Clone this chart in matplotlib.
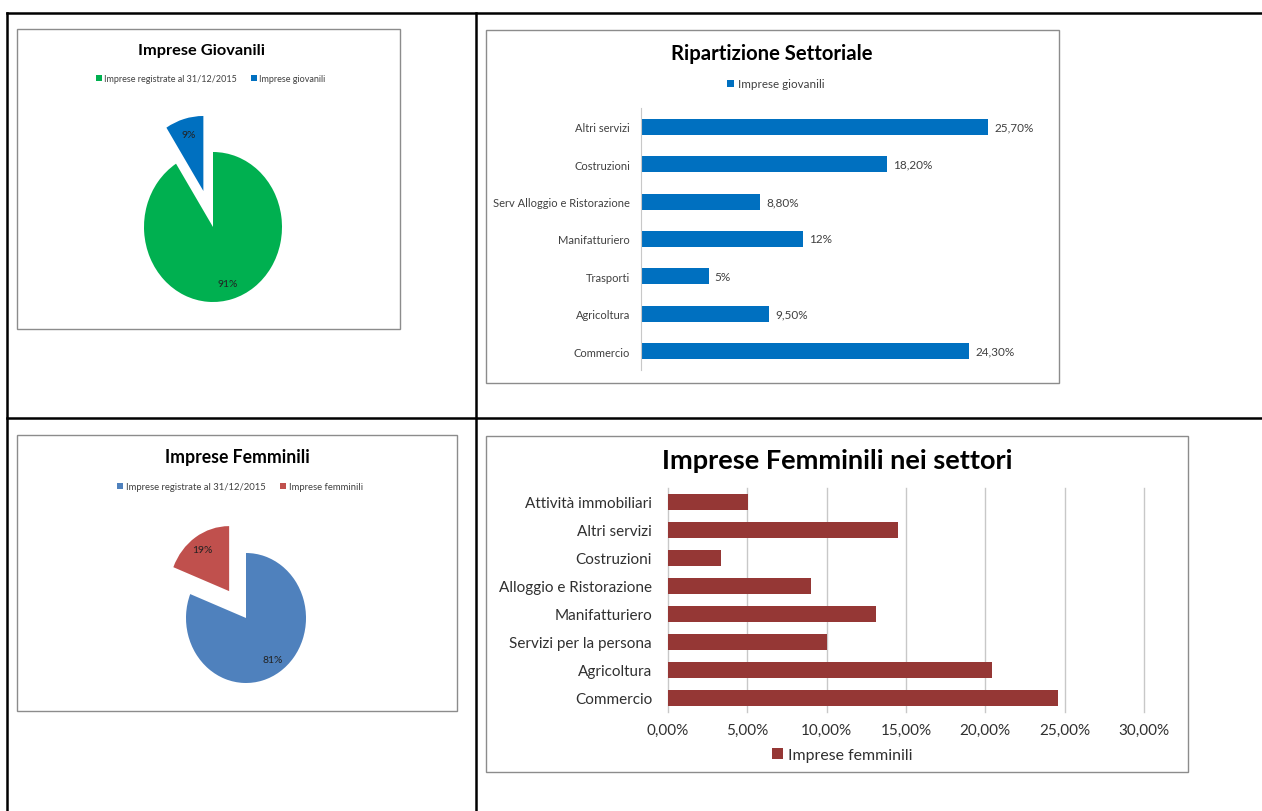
import matplotlib.pyplot as plt
from matplotlib.patches import Rectangle
from matplotlib.lines import Line2D

plt.rcParams['font.family'] = ['Lato', 'DejaVu Sans']

# dati
torta1_etichette = ['Imprese registrate al 31/12/2015', 'Imprese giovanili']
torta1_valori = [91, 9]
torta1_colori = ['#00B050', '#0070C0']

settori_giovani = ['Altri servizi', 'Costruzioni', 'Serv Alloggio e Ristorazione',
                   'Manifatturiero', 'Trasporti', 'Agricoltura', 'Commercio']
valori_giovani = [25.7, 18.2, 8.8, 12, 5, 9.5, 24.3]
etichette_giovani = ['25,70%', '18,20%', '8,80%', '12%', '5%', '9,50%', '24,30%']

torta2_etichette = ['Imprese registrate al 31/12/2015', 'Imprese femminili']
torta2_valori = [81, 19]
torta2_colori = ['#4F81BD', '#C0504D']

settori_donne = ['Attività immobiliari', 'Altri servizi', 'Costruzioni',
                 'Alloggio e Ristorazione', 'Manifatturiero', 'Servizi per la persona',
                 'Agricoltura', 'Commercio']
valori_donne = [0.0505, 0.145, 0.0335, 0.090, 0.131, 0.100, 0.204, 0.246]
tick_donne = [0, 0.05, 0.10, 0.15, 0.20, 0.25, 0.30]

W, H = 1262, 812
fig = plt.figure(figsize=(W / 100, H / 100), dpi=100)


def box(x0, y0, x1, y1):
    # pixel -> coordinate figura
    return [x0 / W, 1 - y1 / H, (x1 - x0) / W, (y1 - y0) / H]


def fx(x):
    return x / W


def fy(y):
    return 1 - y / H


# griglia della tabella
for (xa, ya, xb, yb) in [(7, 14, 1262, 14), (7, 419, 1262, 419),
                         (7, 14, 7, 812), (476, 14, 476, 812)]:
    fig.add_artist(Line2D([fx(xa), fx(xb)], [fy(ya), fy(yb)], color='black', lw=1.8))

# cornici dei grafici
for (x0, y0, x1, y1) in [(17, 30, 400, 330), (486, 31, 1059, 384),
                         (17, 436, 457, 712), (486, 437, 1188, 773)]:
    fig.add_artist(Rectangle((fx(x0), fy(y1)), (x1 - x0) / W, (y1 - y0) / H,
                             transform=fig.transFigure, fill=False,
                             edgecolor='#8c8c8c', lw=1))


def torta(cx, cy, rx, ry, valori, colori, esplodi):
    ax = fig.add_axes(box(cx - 110, cy - 125, cx + 110, cy + 100))
    wedges, _, testi = ax.pie(valori, colors=colori, startangle=90, counterclock=False,
                              explode=esplodi, autopct='%1.0f%%', pctdistance=0.78,
                              wedgeprops=dict(linewidth=0),
                              textprops=dict(fontsize=7.5, color='#222222'))
    ax.set_aspect('auto')
    ax.set_xlim(-110 / rx, 110 / rx)
    ax.set_ylim(-100 / ry, 125 / ry)
    ax.axis('off')
    return wedges


# Imprese Giovanili
w1 = torta(213, 228, 69, 75, torta1_valori, torta1_colori, [0, 0.5])
fig.text(fx(202), fy(51), 'Imprese Giovanili', ha='center', va='center',
         fontsize=11.8, fontweight='bold')
fig.legend(w1, torta1_etichette, loc='center', bbox_to_anchor=(fx(211), fy(80)),
           ncol=2, frameon=False, fontsize=6.45, handlelength=0.6, handleheight=0.6,
           handletextpad=0.3, columnspacing=1.6, labelcolor='#404040')

# Ripartizione Settoriale
ax1 = fig.add_axes(box(641, 109.3, 1046, 370.7))
b1 = ax1.barh(settori_giovani[::-1], valori_giovani[::-1], height=0.43,
              color='#0070C0', label='Imprese giovanili')
ax1.bar_label(b1, labels=etichette_giovani[::-1], padding=4.5, fontsize=8.5, color='#404040')
ax1.set_xlim(0, 30)
ax1.set_ylim(-0.5, 6.5)
ax1.set_xticks([])
ax1.tick_params(axis='y', length=0, pad=8, labelsize=8, labelcolor='#404040')
for s in ['top', 'right', 'bottom']:
    ax1.spines[s].set_visible(False)
ax1.spines['left'].set_color('#c8c8c8')
fig.text(fx(772), fy(54), 'Ripartizione Settoriale', ha='center', va='center',
         fontsize=14.6, fontweight='bold')
fig.legend(loc='center', bbox_to_anchor=(fx(776), fy(85)), frameon=False, fontsize=8.4,
           handlelength=0.6, handleheight=0.6, handletextpad=0.3, labelcolor='#404040')

# Imprese Femminili
w2 = torta(246, 619, 60, 65, torta2_valori, torta2_colori, [0, 0.5])
fig.text(fx(237), fy(458), 'Imprese Femminili', ha='center', va='center',
         fontsize=12.7, fontweight='bold')
fig.legend(w2, torta2_etichette, loc='center', bbox_to_anchor=(fx(240), fy(488)),
           ncol=2, frameon=False, fontsize=6.8, handlelength=0.6, handleheight=0.6,
           handletextpad=0.3, columnspacing=1.6, labelcolor='#404040')

# Imprese Femminili nei settori
ax2 = fig.add_axes(box(668, 489, 1144, 713))
b2 = ax2.barh(settori_donne[::-1], valori_donne[::-1], height=0.6,
              color='#953735', label='Imprese femminili', zorder=3)
ax2.set_xlim(0, 0.30)
ax2.set_ylim(-0.5, 7.5)
ax2.set_xticks(tick_donne)
ax2.set_xticklabels([f'{t * 100:.2f}%'.replace('.', ',') for t in tick_donne])
ax2.grid(axis='x', color='#c8c8c8', lw=1, zorder=0)
for g in ax2.get_xgridlines():
    g.set_clip_on(False)
ax2.tick_params(axis='both', length=0, labelsize=11, labelcolor='#303030')
ax2.tick_params(axis='y', pad=11.5)
ax2.tick_params(axis='x', pad=8)
for s in ['top', 'right', 'bottom', 'left']:
    ax2.spines[s].set_visible(False)
fig.text(fx(837), fy(461), 'Imprese Femminili nei settori', ha='center', va='center',
         fontsize=19.5, fontweight='bold')
fig.legend(handles=[b2], loc='center', bbox_to_anchor=(fx(842), fy(756)), frameon=False,
           fontsize=11.4, handlelength=0.7, handleheight=0.7, handletextpad=0.3,
           labelcolor='#303030')

fig.savefig('out.png', dpi=100)
